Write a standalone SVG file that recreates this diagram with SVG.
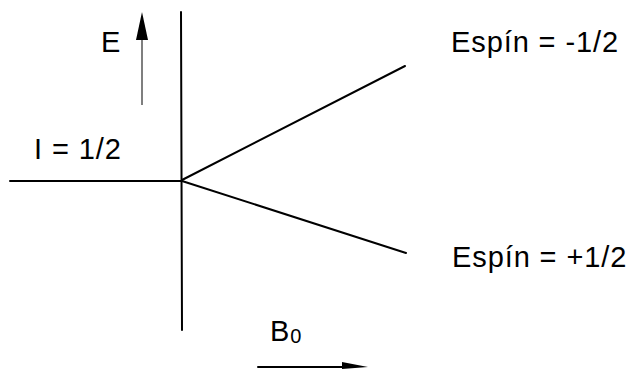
<svg xmlns="http://www.w3.org/2000/svg" width="631" height="369" viewBox="0 0 631 369">
<style>
.ln{stroke:#000;stroke-width:2;fill:none;stroke-linecap:round}
.thin{stroke:#555;stroke-width:1.5;fill:none}
.t{font-family:"Liberation Sans",Arial,sans-serif;font-size:29px;fill:#000;letter-spacing:0.9px}
</style>
<rect width="631" height="369" fill="#fff"/>
<g id="connectors">
<line class="ln" x1="181" y1="12" x2="182" y2="330"/>
<line class="ln" x1="10" y1="181" x2="182" y2="181"/>
<line class="ln" x1="182" y1="180" x2="405" y2="66"/>
<line class="ln" x1="182" y1="181" x2="406" y2="253"/>
<line class="thin" x1="142" y1="38" x2="142" y2="105"/>
<polygon points="142,12 148,40 136,40" fill="#000"/>
<line class="ln" x1="258" y1="367" x2="345" y2="367"/>
<polygon points="342,362 368,367 342,369" fill="#000"/>
</g>
<g id="label-E"><text class="t" x="101" y="52">E</text></g>
<g id="label-I"><text class="t" x="34" y="159">I = 1/2</text></g>
<g id="label-spin-minus"><text class="t" x="451" y="52">Espín = -1/2</text></g>
<g id="label-spin-plus"><text class="t" x="452" y="267">Espín = +1/2</text></g>
<g id="label-B0"><text class="t" x="270" y="341">B<tspan font-size="20" dy="2">0</tspan></text></g>
</svg>
